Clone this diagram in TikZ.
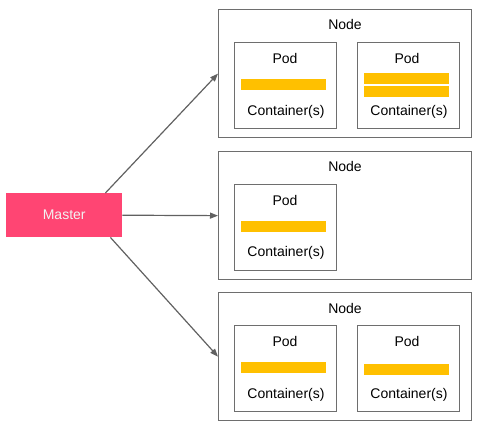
\documentclass[tikz,border=0pt]{standalone}
\usepackage{fontspec}
\setmainfont{Liberation Sans}
\usetikzlibrary{arrows.meta,positioning,calc}
\definecolor{boxgray}{HTML}{6E6E6E}
\definecolor{linegray}{HTML}{616161}
\definecolor{masterpink}{HTML}{FF4573}
\definecolor{baryellow}{HTML}{FFC000}
\begin{document}
\begin{tikzpicture}[x=1pt,y=-1pt,
  nodebox/.style={draw=boxgray,line width=1.3pt,fill=white,minimum width=253pt,minimum height=128pt,anchor=north west,inner sep=0pt},
  podbox/.style={draw=boxgray,line width=1.3pt,fill=white,minimum width=102pt,minimum height=86pt,anchor=north west,inner sep=0pt},
  bar/.style={fill=baryellow,draw=none,minimum width=85pt,minimum height=10.5pt,anchor=north west,inner sep=0pt},
  lbl/.style={font=\fontsize{14}{16}\selectfont,inner sep=0pt,text=black},
  arr/.style={draw=linegray,line width=1.2pt,-{Triangle[length=8pt,width=6pt]}}]
\useasboundingbox (0,0) rectangle (479,428);
% Master
\node[fill=masterpink,minimum width=116pt,minimum height=44pt,anchor=north west,inner sep=0pt,
  font=\fontsize{14}{16}\selectfont,text=white!95!black] (m) at (6,193) {Master};
% Node 1
\node[nodebox] (n1) at (218,9) {};
\node[lbl] (n1l) at (345,24) {Node};
\node[podbox] (p11) at (234,42) {};
\node[lbl] (p11l) at (285,58) {Pod};
\node[bar] (b11) at (241,79) {};
\node[lbl] (p11c) at (286,112) {Container(s)};
\node[podbox] (p12) at (357,42) {};
\node[lbl] (p12l) at (407,58) {Pod};
\node[bar] (b12a) at (364,73) {};
\node[bar] (b12b) at (364,86) {};
\node[lbl] (p12c) at (409,112) {Container(s)};
% Node 2
\node[nodebox] (n2) at (218,151) {};
\node[lbl] (n2l) at (345,166) {Node};
\node[podbox] (p21) at (234,184) {};
\node[lbl] (p21l) at (285,200) {Pod};
\node[bar] (b21) at (241,221) {};
\node[lbl] (p21c) at (286,253) {Container(s)};
% Node 3
\node[nodebox] (n3) at (218,292) {};
\node[lbl] (n3l) at (345,308) {Node};
\node[podbox] (p31) at (234,325) {};
\node[lbl] (p31l) at (285,341) {Pod};
\node[bar] (b31) at (241,362) {};
\node[lbl] (p31c) at (286,395) {Container(s)};
\node[podbox] (p32) at (357,325) {};
\node[lbl] (p32l) at (407,341) {Pod};
\node[bar] (b32) at (364,364) {};
\node[lbl] (p32c) at (409,395) {Container(s)};
% Arrows
\draw[arr] ([xshift=-17pt]m.north east) -- (n1.west);
\draw[arr] (m.east) -- (n2.west);
\draw[arr] ([xshift=-12pt]m.south east) -- (n3.west);
\end{tikzpicture}
\end{document}
